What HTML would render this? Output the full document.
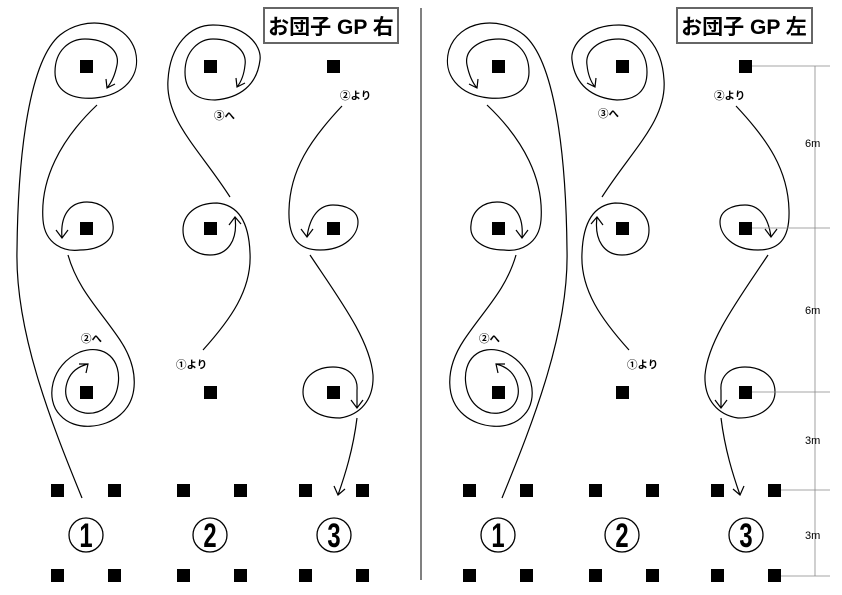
<!DOCTYPE html>
<html><head><meta charset="utf-8"><style>
html,body{margin:0;padding:0;background:#fff;}
svg{display:block;}
text{font-family:"Liberation Sans","Noto Sans CJK JP",sans-serif;}
</style></head><body>
<svg width="842" height="595" viewBox="0 0 842 595" xmlns="http://www.w3.org/2000/svg">
<defs>
<g id="c1" fill="none" stroke="#000" stroke-width="1.2">
<path d="M82,498 C50,420 15,330 17,250 C18,150 30,60 60,35 C85,15 125,20 135,50 C142,75 125,95 95,98 C70,100 55,90 55,72 C55,50 70,39 85,39 C105,39 120,50 117,65 C115,75 112,82 107,88"/>
<polyline points="106,79 107,88 115,84"/>
<path d="M97,105 C60,140 40,180 43,220 C45,245 65,252 80,250 C100,250 115,240 113,225 C112,210 100,202 87,202 C70,202 60,215 62,238"/>
<polyline points="56,230 62,238 68,230"/>
<path d="M68,255 C78,290 100,310 120,340 C140,370 138,400 120,415 C105,428 75,432 60,415 C45,400 50,365 80,352 C105,343 122,360 118,385 C115,405 100,415 85,413 C68,410 62,395 68,380 C72,370 80,366 88,364"/>
<polyline points="79,364 88,364 86,373"/>
</g>
<g id="c2" fill="none" stroke="#000" stroke-width="1.2">
<path d="M230,197 C200,150 165,120 168,80 C170,45 190,25 213,25 C245,25 262,45 260,60 C257,85 240,98 215,100 C195,100 185,90 185,72 C185,50 200,39 213,39 C235,39 247,52 245,65 C244,75 241,82 237,87"/>
<polyline points="236,78 237,87 245,83"/>
<path d="M203,350 C230,320 252,290 250,253 C249,225 240,205 217,203 C195,203 183,215 183,230 C183,248 198,255 210,255 C228,255 238,240 235,217"/>
<polyline points="229,225 235,217 241,224"/>
</g>
<g id="c3" fill="none" stroke="#000" stroke-width="1.2">
<path d="M342,106 C310,140 290,170 289,210 C288,240 300,250 320,250 C345,250 358,235 358,222 C358,210 345,205 333,205 C320,205 310,215 307,237"/>
<polyline points="301,229 307,237 313,229"/>
<path d="M310,255 C340,300 370,340 373,375 C374,400 360,415 340,418 C315,418 303,405 303,392 C303,375 318,367 333,367 C350,367 358,378 357,390 C357,398 357,403 357,408"/>
<polyline points="351,400 357,408 363,400"/>
<path d="M357,418 C353,450 345,475 338,495"/>
<polyline points="334,486 338,495 345,489"/>
</g>
</defs>
<line x1="421" y1="8" x2="421" y2="580" stroke="#000" stroke-width="1"/>
<use href="#c1"/><use href="#c2"/><use href="#c3"/>
<g transform="translate(584,0) scale(-1,1)"><use href="#c1"/></g>
<g transform="translate(832,0) scale(-1,1)"><use href="#c2"/></g>
<g transform="translate(1078,0) scale(-1,1)"><use href="#c3"/></g>
<g stroke="#888" stroke-width="0.8">
<line x1="815" y1="66" x2="815" y2="576"/>
<line x1="752" y1="66" x2="830" y2="66"/>
<line x1="752" y1="228" x2="830" y2="228"/>
<line x1="752" y1="392" x2="830" y2="392"/>
<line x1="780" y1="490" x2="830" y2="490"/>
<line x1="780" y1="576" x2="830" y2="576"/>
</g>
<g font-size="11" fill="#000">
<text x="805" y="147">6m</text>
<text x="805" y="314">6m</text>
<text x="805" y="444">3m</text>
<text x="805" y="539">3m</text>
</g>
<g fill="#000">
<rect x="80" y="60" width="13" height="13"/><rect x="204" y="60" width="13" height="13"/><rect x="327" y="60" width="13" height="13"/>
<rect x="80" y="222" width="13" height="13"/><rect x="204" y="222" width="13" height="13"/><rect x="327" y="222" width="13" height="13"/>
<rect x="80" y="386" width="13" height="13"/><rect x="204" y="386" width="13" height="13"/><rect x="327" y="386" width="13" height="13"/>
<rect x="51" y="484" width="13" height="13"/><rect x="108" y="484" width="13" height="13"/><rect x="177" y="484" width="13" height="13"/><rect x="234" y="484" width="13" height="13"/><rect x="299" y="484" width="13" height="13"/><rect x="356" y="484" width="13" height="13"/>
<rect x="51" y="569" width="13" height="13"/><rect x="108" y="569" width="13" height="13"/><rect x="177" y="569" width="13" height="13"/><rect x="234" y="569" width="13" height="13"/><rect x="299" y="569" width="13" height="13"/><rect x="356" y="569" width="13" height="13"/>
<rect x="492" y="60" width="13" height="13"/><rect x="616" y="60" width="13" height="13"/><rect x="739" y="60" width="13" height="13"/>
<rect x="492" y="222" width="13" height="13"/><rect x="616" y="222" width="13" height="13"/><rect x="739" y="222" width="13" height="13"/>
<rect x="492" y="386" width="13" height="13"/><rect x="616" y="386" width="13" height="13"/><rect x="739" y="386" width="13" height="13"/>
<rect x="463" y="484" width="13" height="13"/><rect x="520" y="484" width="13" height="13"/><rect x="589" y="484" width="13" height="13"/><rect x="646" y="484" width="13" height="13"/><rect x="711" y="484" width="13" height="13"/><rect x="768" y="484" width="13" height="13"/>
<rect x="463" y="569" width="13" height="13"/><rect x="520" y="569" width="13" height="13"/><rect x="589" y="569" width="13" height="13"/><rect x="646" y="569" width="13" height="13"/><rect x="711" y="569" width="13" height="13"/><rect x="768" y="569" width="13" height="13"/>
</g>
<g fill="none" stroke="#000" stroke-width="1.3">
<circle cx="86" cy="535" r="17"/><circle cx="210" cy="535" r="17"/><circle cx="334" cy="535" r="17"/>
<circle cx="498" cy="535" r="17"/><circle cx="622" cy="535" r="17"/><circle cx="746" cy="535" r="17"/>
</g>
<g font-size="34" font-weight="bold" text-anchor="middle" fill="#000">
<text transform="translate(86,547) scale(0.7,1)">1</text>
<text transform="translate(210,547) scale(0.7,1)">2</text>
<text transform="translate(334,547) scale(0.7,1)">3</text>
<text transform="translate(498,547) scale(0.7,1)">1</text>
<text transform="translate(622,547) scale(0.7,1)">2</text>
<text transform="translate(746,547) scale(0.7,1)">3</text>
</g>
<g font-size="10.5" font-weight="bold" fill="#000">
<text x="340" y="99">②より</text>
<text x="214" y="119">③へ</text>
<text x="81" y="342">②へ</text>
<text x="176" y="368">①より</text>
<text x="714" y="99">②より</text>
<text x="598" y="117">③へ</text>
<text x="479" y="342">②へ</text>
<text x="627" y="368">①より</text>
</g>
<rect x="264" y="8" width="134" height="35" fill="#fff" stroke="#666" stroke-width="2"/>
<text x="331" y="34" font-size="21" font-weight="bold" text-anchor="middle">お団子 GP 右</text>
<rect x="677" y="8" width="135" height="35" fill="#fff" stroke="#666" stroke-width="2"/>
<text x="744" y="34" font-size="21" font-weight="bold" text-anchor="middle">お団子 GP 左</text>
</svg>
</body></html>
